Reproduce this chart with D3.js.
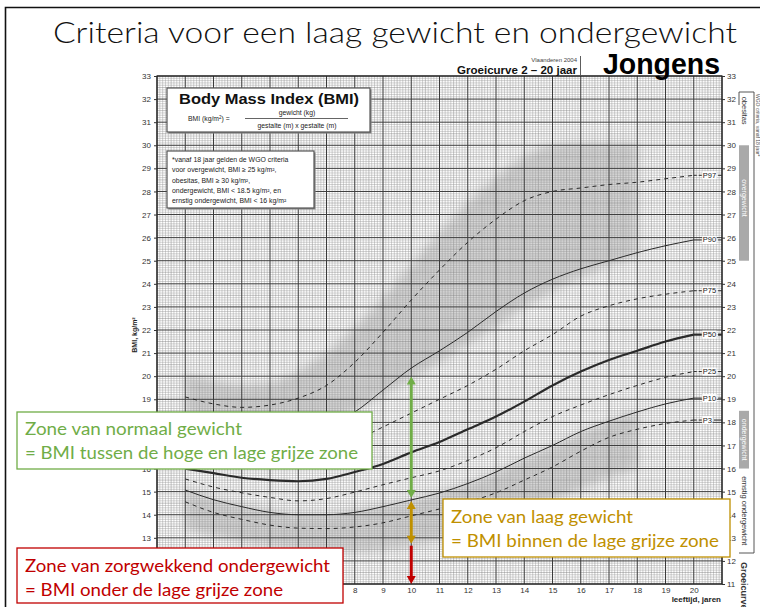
<!DOCTYPE html>
<html><head><meta charset="utf-8">
<script src="https://cdn.jsdelivr.net/npm/d3@7"></script>
<style>body{margin:0;background:#fff}svg{display:block}</style>
</head><body>
<svg id="c" width="760" height="607"></svg>
<script>
// ---------- data ----------
const ages = [2,3,4,5,6,7,8,9,10,11,12,13,14,15,16,17,18,19,20];
const p97 = [19.1,18.8,18.65,18.75,19.05,19.6,20.6,21.9,23.3,24.6,25.8,26.8,27.6,28.0,28.15,28.3,28.4,28.55,28.7];
const p90 = [17.9,17.6,17.4,17.4,17.6,17.9,18.45,19.4,20.35,21.1,21.9,22.8,23.6,24.2,24.65,25.0,25.35,25.65,25.9];
const p75 = [17.0,16.7,16.5,16.4,16.45,16.7,17.2,17.8,18.4,19.0,19.6,20.3,21.1,21.8,22.6,23.05,23.35,23.55,23.7];
const p50 = [16.0,15.8,15.6,15.5,15.45,15.55,15.85,16.2,16.7,17.15,17.7,18.25,18.9,19.6,20.2,20.7,21.1,21.5,21.8];
const p25 = [15.55,15.2,14.95,14.75,14.6,14.7,14.98,15.3,15.6,15.9,16.35,16.9,17.6,18.25,18.75,19.2,19.6,19.95,20.2];
const p10 = [15.07,14.65,14.35,14.1,14.0,14.0,14.1,14.35,14.64,14.94,15.35,15.85,16.45,17.0,17.6,18.05,18.45,18.8,19.05];
const p3  = [14.56,14.1,13.8,13.55,13.42,13.4,13.47,13.65,13.95,14.25,14.55,14.95,15.5,16.07,16.75,17.35,17.7,17.95,18.1];
const percentileNames = ["P97","P90","P75","P50","P25","P10","P3"];

// grey zones (ages 2..18)
const bandAges = [2,3,4,5,6,7,8,9,10,11,12,13,14,15,16,17,18];
const highZoneLow  = [18.4,17.9,17.6,17.5,17.6,17.95,18.5,19.2,19.9,20.6,21.4,22.2,23.0,23.7,24.3,24.8,25.2];
const highZoneHigh = [20.1,19.8,19.6,19.7,20.2,21.0,22.1,23.4,24.8,26.2,27.5,28.6,29.5,30.0,30.1,30.1,30.1];
const lowZoneHigh  = [15.14,14.74,14.43,14.21,14.07,14.08,14.21,14.42,14.64,14.97,15.35,15.84,16.41,16.98,17.54,18.05,18.5];
const lowZoneLow   = [13.37,13.09,12.86,12.66,12.50,12.42,12.42,12.50,12.66,12.89,13.18,13.59,14.09,14.60,15.12,15.60,16.0];

// WGO criteria (from age 18)
const criteriaNames = ["obesitas","overgewicht","ondergewicht","ernstig ondergewicht"];
const criteriaValues = [30, 25, 18.5, 16];

const yTicks = [11,12,13,14,15,16,17,18,19,20,21,22,23,24,25,26,27,28,29,30,31,32,33];
const xTicks = [2,3,4,5,6,7,8,9,10,11,12,13,14,15,16,17,18,19,20];
const arrowAge = 10;

// ---------- setup ----------
const svg = d3.select("#c");
const AR = "'Liberation Sans', Arial, sans-serif";
const CAL = "Lato, 'Open Sans', sans-serif";
const x = d3.scaleLinear().domain([1,21]).range([157,722]);
const y = d3.scaleLinear().domain([11,33]).range([584,76]);

svg.append("rect").attr("width",760).attr("height",607).attr("fill","#fff");
const defs = svg.append("defs");
defs.append("filter").attr("id","blur").attr("x","-20%").attr("y","-30%").attr("width","140%").attr("height","160%")
  .append("feGaussianBlur").attr("stdDeviation",5);
defs.append("clipPath").attr("id","plotclip").append("rect")
  .attr("x",x(1)).attr("y",y(33)).attr("width",x(21)-x(1)).attr("height",y(11)-y(33));

// ---------- grey zones ----------
const zoneArea = d3.area().x(d=>x(d.a)).y0(d=>y(d.lo)).y1(d=>y(d.hi)).curve(d3.curveMonotoneX);
const zones = svg.append("g").attr("clip-path","url(#plotclip)");
[[highZoneLow,highZoneHigh],[lowZoneLow,lowZoneHigh]].forEach(([lo,hi])=>{
  zones.append("path").datum(bandAges.map((a,i)=>({a,lo:lo[i],hi:hi[i]})))
    .attr("d",zoneArea).attr("fill","#d6d6d6").attr("filter","url(#blur)");
});

// ---------- grid ----------
const grid = svg.append("g");
const minorX = d3.range(10,211).filter(i=>i%10!==0).map(i=>i/10);
const minorY = d3.range(110,331).filter(i=>i%10!==0).map(i=>i/10);
grid.selectAll(".mx").data(minorX).join("line")
  .attr("x1",d=>x(d)).attr("x2",d=>x(d)).attr("y1",y(11)).attr("y2",y(33))
  .attr("stroke",d=>Math.round(d*10)%5===0?"#7a7a7a":"#9a9a9a").attr("stroke-width",0.45);
grid.selectAll(".my").data(minorY).join("line")
  .attr("y1",d=>y(d)).attr("y2",d=>y(d)).attr("x1",x(1)).attr("x2",x(21))
  .attr("stroke",d=>Math.round(d*10)%5===0?"#7a7a7a":"#9a9a9a").attr("stroke-width",0.45);
grid.selectAll(".Mx").data(d3.range(1,22)).join("line")
  .attr("x1",d=>x(d)).attr("x2",d=>x(d)).attr("y1",y(11)).attr("y2",y(33))
  .attr("stroke","#3a3a3a").attr("stroke-width",1);
grid.selectAll(".My").data(d3.range(11,34)).join("line")
  .attr("y1",d=>y(d)).attr("y2",d=>y(d)).attr("x1",x(1)).attr("x2",x(21))
  .attr("stroke","#3a3a3a").attr("stroke-width",1);
svg.append("rect").attr("x",x(1)).attr("y",y(33)).attr("width",x(21)-x(1)).attr("height",y(11)-y(33))
  .attr("fill","none").attr("stroke","#222").attr("stroke-width",1.2);

// ---------- percentile curves ----------
const seriesData = [p97,p90,p75,p50,p25,p10,p3];
const styles = {P97:{dash:"4,4",w:1},P90:{dash:null,w:1},P75:{dash:"4,4",w:1},P50:{dash:null,w:2.2},
  P25:{dash:"4,4",w:1},P10:{dash:null,w:1},P3:{dash:"4,4",w:1}};
const line = d3.line().x((d,i)=>x(ages[i])).y(d=>y(d)).curve(d3.curveMonotoneX);
const curves = svg.append("g");
percentileNames.forEach((nm,k)=>{
  const v = seriesData[k], st = styles[nm];
  curves.append("path").datum(v).attr("d",line).attr("fill","none")
    .attr("stroke","#2a2a2a").attr("stroke-width",st.w).attr("stroke-dasharray",st.dash);
  const ly = y(v[v.length-1]), lx = x(ages[ages.length-1]);
  curves.append("line").attr("x1",lx).attr("x2",lx+8).attr("y1",ly).attr("y2",ly)
    .attr("stroke","#2a2a2a").attr("stroke-width",st.w).attr("stroke-dasharray",st.dash?"3,2":null);
  const t = curves.append("text").attr("x",lx+9).attr("y",ly+2.5).text(nm)
    .attr("font-family",AR).attr("font-size",7.5).attr("fill","#222");
  const tw = t.node().getComputedTextLength();
  curves.append("rect").attr("x",lx+8.5).attr("y",ly-4).attr("width",tw+1).attr("height",8).attr("fill","#fff").lower();
  curves.append("line").attr("x1",lx+10+tw+1).attr("x2",x(21)).attr("y1",ly).attr("y2",ly)
    .attr("stroke","#2a2a2a").attr("stroke-width",st.w);
});
curves.selectAll("rect").each(function(){ this.parentNode.appendChild(this); });
curves.selectAll("text").each(function(){ this.parentNode.appendChild(this); });

// ---------- axes ----------
function styleAxis(g){
  g.select(".domain").remove();
  g.selectAll("text").attr("font-family",AR).attr("font-size",8).attr("fill","#333");
  g.selectAll("line").attr("stroke","#333");
}
svg.append("g").attr("transform",`translate(${x(1)},0)`)
  .call(d3.axisLeft(y).tickValues(yTicks).tickSize(3).tickPadding(3).tickFormat(d3.format("d"))).call(styleAxis);
svg.append("g").attr("transform",`translate(${x(21)},0)`)
  .call(d3.axisRight(y).tickValues(yTicks).tickSize(3).tickPadding(2).tickFormat(d3.format("d"))).call(styleAxis);
svg.append("g").attr("transform",`translate(0,${y(11)})`)
  .call(d3.axisBottom(x).tickValues(xTicks).tickSize(0).tickPadding(3).tickFormat(d3.format("d"))).call(styleAxis);
svg.append("text").attr("x",721).attr("y",602).attr("text-anchor","end").text("leeftijd, jaren")
  .attr("font-family",AR).attr("font-size",8).attr("font-weight","bold").attr("fill","#222");
svg.append("text").attr("transform","translate(137,335) rotate(-90)").attr("text-anchor","middle")
  .attr("font-family",AR).attr("font-size",7).attr("font-weight","bold").attr("fill","#222")
  .text("BMI, kg/m²");

// ---------- header ----------
svg.append("text").attr("x",53).attr("y",43).text("Criteria voor een laag gewicht en ondergewicht")
  .attr("font-family",CAL).attr("font-weight",300).attr("font-size",29).attr("fill","#111")
  .attr("textLength",684).attr("lengthAdjust","spacingAndGlyphs");
svg.append("text").attr("x",577).attr("y",62).attr("text-anchor","end").text("Vlaanderen 2004")
  .attr("font-family",AR).attr("font-size",6).attr("fill","#444");
svg.append("text").attr("x",577).attr("y",74).attr("text-anchor","end").text("Groeicurve 2 – 20 jaar")
  .attr("font-family",AR).attr("font-size",11.5).attr("font-weight","bold").attr("fill","#111")
  .attr("textLength",120).attr("lengthAdjust","spacingAndGlyphs");
svg.append("line").attr("x1",580.5).attr("x2",580.5).attr("y1",56).attr("y2",75).attr("stroke","#333").attr("stroke-width",0.8);
svg.append("text").attr("x",603).attr("y",74).text("Jongens")
  .attr("font-family",AR).attr("font-size",29).attr("font-weight","bold").attr("fill","#000")
  .attr("textLength",117).attr("lengthAdjust","spacingAndGlyphs");

// ---------- BMI box ----------
function panel(x0,y0,w,h){
  svg.append("rect").attr("x",x0+1.5).attr("y",y0+1.5).attr("width",w).attr("height",h).attr("fill","#888");
  svg.append("rect").attr("x",x0).attr("y",y0).attr("width",w).attr("height",h).attr("fill","#fff")
    .attr("stroke","#555").attr("stroke-width",1.2);
}
panel(167,88,203,44);
svg.append("text").attr("x",269).attr("y",104).attr("text-anchor","middle").text("Body Mass Index (BMI)")
  .attr("font-family",AR).attr("font-size",15).attr("font-weight","bold").attr("fill","#111")
  .attr("textLength",180).attr("lengthAdjust","spacingAndGlyphs");
const f = svg.append("g").attr("font-family",AR).attr("font-size",6.8).attr("fill","#222");
f.append("text").attr("x",188).attr("y",121).html("BMI (kg/m<tspan dy='-2.5' font-size='4.5'>2</tspan><tspan dy='2.5'>) =</tspan>");
f.append("text").attr("x",297).attr("y",115).attr("text-anchor","middle").text("gewicht (kg)");
f.append("line").attr("x1",245).attr("x2",348).attr("y1",118.5).attr("y2",118.5).attr("stroke","#222").attr("stroke-width",0.7);
f.append("text").attr("x",297).attr("y",128).attr("text-anchor","middle").text("gestalte (m)  x  gestalte (m)");

// ---------- note box ----------
panel(167,151,147,57);
const noteLines = ["*vanaf 18 jaar gelden de WGO criteria",
  "voor overgewicht, BMI ≥ 25 kg/m²,",
  "obesitas, BMI ≥ 30 kg/m²,",
  "ondergewicht, BMI < 18.5 kg/m², en",
  "ernstig ondergewicht, BMI < 16 kg/m²"];
svg.append("g").selectAll("text").data(noteLines).join("text")
  .attr("x",172).attr("y",(d,i)=>162+i*10.3).text(d=>d)
  .attr("font-family",AR).attr("font-size",6.9).attr("fill","#222");

// ---------- right legend ----------
const lg = svg.append("g");
lg.append("line").attr("x1",754).attr("x2",754).attr("y1",92).attr("y2",553).attr("stroke","#444").attr("stroke-width",0.9);
lg.append("line").attr("x1",739).attr("x2",754).attr("y1",92).attr("y2",92).attr("stroke","#444").attr("stroke-width",0.9);
lg.append("line").attr("x1",739).attr("x2",754).attr("y1",553).attr("y2",553).attr("stroke","#444").attr("stroke-width",0.9);
lg.append("line").attr("x1",739).attr("x2",739).attr("y1",92).attr("y2",105).attr("stroke","#444").attr("stroke-width",0.9);
lg.append("rect").attr("x",739).attr("y",y(criteriaValues[0])).attr("width",10).attr("height",y(criteriaValues[1])-y(criteriaValues[0])).attr("fill","#a9a9a9");
lg.append("rect").attr("x",739).attr("y",y(criteriaValues[2])).attr("width",10).attr("height",y(criteriaValues[3])-y(criteriaValues[2])).attr("fill","#a9a9a9");
function vtext(cx,cy,txt,size,fill,weight){
  lg.append("text").attr("transform",`translate(${cx},${cy}) rotate(90)`).attr("text-anchor","middle")
    .attr("font-family",AR).attr("font-size",size).attr("fill",fill).attr("font-weight",weight||"normal").text(txt);
}
vtext(742, (92+y(criteriaValues[0]))/2-8, criteriaNames[0], 7.5, "#333");
vtext(741.5, (y(criteriaValues[0])+y(criteriaValues[1]))/2-5, criteriaNames[1], 7, "#fff");
vtext(741.5, (y(criteriaValues[2])+y(criteriaValues[3]))/2, criteriaNames[2], 7, "#fff");
vtext(742, (y(criteriaValues[3])+553)/2, criteriaNames[3], 7.5, "#333");
lg.append("text").attr("transform","translate(741,562) rotate(90)").attr("font-family",AR).attr("font-size",9)
  .attr("font-weight","bold").attr("fill","#333").text("Groeicurve jongens");
lg.append("text").attr("transform","translate(756,94) rotate(90)").attr("font-family",AR).attr("font-size",5)
  .attr("fill","#555").text("WGO criteria, vanaf 18 jaar*");

// ---------- annotation boxes ----------
function note(x0,y0,w,h,color,lines,lens,bases){
  svg.append("rect").attr("x",x0).attr("y",y0).attr("width",w).attr("height",h)
    .attr("fill","#fff").attr("stroke",color).attr("stroke-width",1.3);
  lines.forEach((t,i)=>svg.append("text").attr("x",x0+8).attr("y",bases[i]).text(t)
    .attr("font-family",CAL).attr("font-size",16.5).attr("fill",color)
    .attr("textLength",lens[i]).attr("lengthAdjust","spacingAndGlyphs"));
}
note(17,412,355,57,"#70AD47",["Zone van normaal gewicht","= BMI tussen de hoge en lage grijze zone"],[217,333],[435,459]);
note(443,499,287,58,"#BF9000",["Zone van laag gewicht","= BMI binnen de lage grijze zone"],[182,268],[523,547]);
note(17,548,326,55,"#C00000",["Zone van zorgwekkend ondergewicht","= BMI onder de lage grijze zone"],[305,258],[572,596]);

// ---------- arrows at age 10 ----------
const ai = bandAges.indexOf(arrowAge);
const ax = x(arrowAge);
function arrow(y0,y1,color,headTop,headBot){
  const h=8, hw=4.5;
  svg.append("line").attr("x1",ax).attr("x2",ax).attr("y1",headTop?y0+h-1:y0).attr("y2",headBot?y1-h+1:y1)
    .attr("stroke",color).attr("stroke-width",3);
  if(headTop) svg.append("path").attr("d",`M${ax},${y0} L${ax-hw},${y0+h} L${ax+hw},${y0+h} Z`).attr("fill",color);
  if(headBot) svg.append("path").attr("d",`M${ax},${y1} L${ax-hw},${y1-h} L${ax+hw},${y1-h} Z`).attr("fill",color);
}
arrow(y(highZoneLow[ai])-2, y(lowZoneHigh[ai])-2, "#70AD47", true, true);
arrow(y(lowZoneHigh[ai])+1, y(lowZoneLow[ai])-2, "#BF9000", true, true);
arrow(y(lowZoneLow[ai]), y(11), "#C00000", false, true);

// ---------- outer border ----------
svg.append("path").attr("d","M5.5,607 L5.5,7.5 L760,7.5").attr("fill","none").attr("stroke","#111").attr("stroke-width",1.6);
</script>
</body></html>
